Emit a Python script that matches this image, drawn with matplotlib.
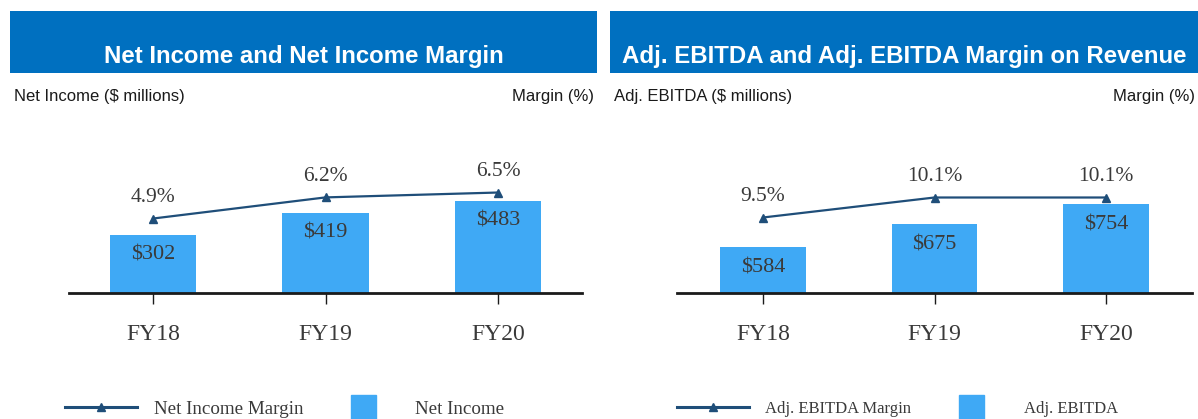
import matplotlib
matplotlib.use("Agg")
import matplotlib.pyplot as plt
from matplotlib.lines import Line2D
from matplotlib.patches import Rectangle

# data
years = ["FY18", "FY19", "FY20"]
net_income = [302, 419, 483]
net_income_margin = [4.9, 6.2, 6.5]
adj_ebitda = [584, 675, 754]
adj_ebitda_margin = [9.5, 10.1, 10.1]

HEADER = "#0070C0"
BAR = "#3FA9F5"
LINE = "#1F4E79"
TXT = "#3a3a3a"
SANS = "Liberation Sans"
SERIF = "Liberation Serif"

W, H = 1198, 419
fig = plt.figure(figsize=(W / 100, H / 100), dpi=100)


def fx(x):
    return x / W


def fy(y):
    return 1 - y / H


def panel(px, title, left_sub, bars, margins, bar_lim, line_lim, xlim,
          names, legend_x, legend_size, hl, hpad, cspace):
    hx0, hx1, ax0, ax1 = px
    # header
    fig.add_artist(Rectangle((fx(hx0), fy(72.7)), fx(hx1 - hx0), 61.7 / H,
                             transform=fig.transFigure, color=HEADER, lw=0))
    fig.text(fx((hx0 + hx1) / 2), fy(63.5), title, ha="center", va="baseline",
             color="white", fontsize=17.3, fontweight="bold", family=SANS)
    fig.text(fx(hx0 + 4), fy(96), left_sub, ha="left", va="center",
             fontsize=12, family=SANS, color="#1a1a1a")
    fig.text(fx(hx1 - 3), fy(96), "Margin (%)", ha="right", va="center",
             fontsize=12, family=SANS, color="#1a1a1a")

    ax = fig.add_axes([fx(ax0), fy(292.5), fx(ax1 - ax0), 152 / H])
    x = list(range(len(years)))
    ax.bar(x, bars, width=0.5, color=BAR)
    ax.set_xlim(xlim)
    ax.set_ylim(bar_lim)
    for s in ["top", "left", "right"]:
        ax.spines[s].set_visible(False)
    ax.spines["bottom"].set_linewidth(2)
    ax.spines["bottom"].set_color("#1a1a1a")
    ax.set_yticks([])
    ax.set_xticks(x, years)
    ax.tick_params(axis="x", length=8, width=1, pad=15, labelsize=17,
                   labelcolor=TXT, color="#1a1a1a")
    for lab in ax.get_xticklabels():
        lab.set_family(SERIF)
    for i, v in enumerate(bars):
        ax.annotate(f"${v}", (i, v), xytext=(0, -14.5), textcoords="offset points",
                    ha="center", va="center", fontsize=16, family=SERIF, color=TXT)

    ax2 = ax.twinx()
    ax2.plot(x, margins, color=LINE, lw=1.6, marker="^", ms=6)
    ax2.set_ylim(line_lim)
    for s in ax2.spines.values():
        s.set_visible(False)
    ax2.set_yticks([])
    for i, m in enumerate(margins):
        ax2.annotate(f"{m}%", (i, m), xytext=(0, 15), textcoords="offset points",
                     ha="center", va="center", fontsize=15.5, family=SERIF, color=TXT)

    handles = [
        Line2D([], [], color=LINE, lw=2.2, marker="^", ms=6),
        Line2D([], [], color=BAR, marker="s", ms=18, ls="none"),
    ]
    ax.legend(handles, names, loc="center left", ncol=2, frameon=False,
              bbox_to_anchor=(fx(legend_x), fy(409)), bbox_transform=fig.transFigure,
              borderpad=0, borderaxespad=0, handlelength=hl, handletextpad=hpad,
              columnspacing=cspace, prop={"family": SERIF, "size": legend_size},
              labelcolor=TXT)


panel((10, 597, 69, 582), "Net Income and Net Income Margin", "Net Income ($ millions)",
      net_income, net_income_margin, (0, 800), (0.35, 9.7), (-0.487, 2.487),
      ["Net Income Margin", "Net Income"], 65, 13.7, 3.8, 0.88, 1.2)

panel((610, 1198, 677, 1192), "Adj. EBITDA and Adj. EBITDA Margin on Revenue",
      "Adj. EBITDA ($ millions)",
      adj_ebitda, adj_ebitda_margin, (406, 1007), (7.25, 11.81), (-0.501, 2.501),
      ["Adj. EBITDA Margin", "Adj. EBITDA"], 677, 12, 4.3, 1.0, 1.45)

fig.savefig("out.png", dpi=100)
